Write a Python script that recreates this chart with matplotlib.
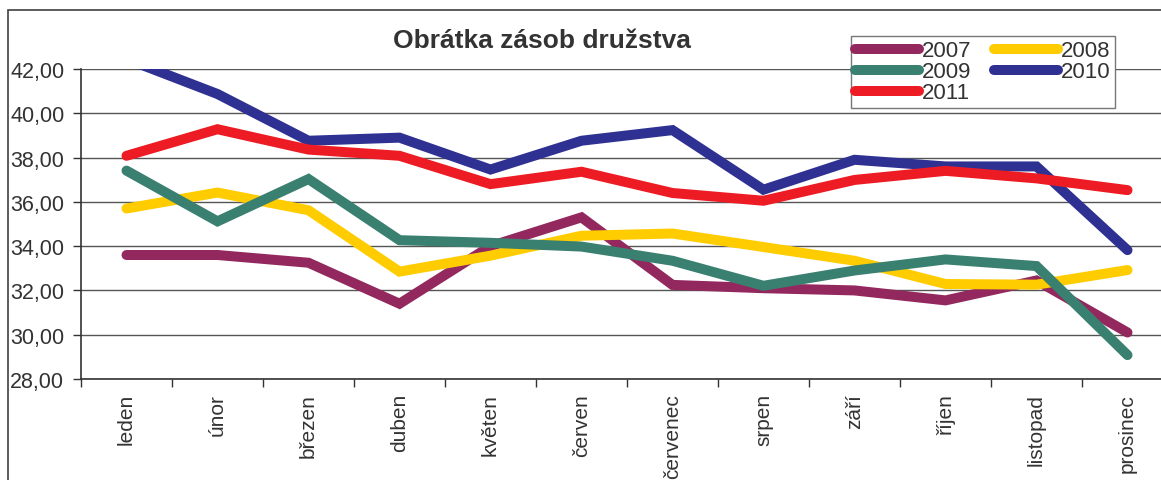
import matplotlib
matplotlib.use("Agg")
import matplotlib.pyplot as plt
from matplotlib.patches import Rectangle
from matplotlib.ticker import FuncFormatter, FixedLocator

months = ["leden", "únor", "březen", "duben", "květen", "červen",
          "červenec", "srpen", "září", "říjen", "listopad", "prosinec"]

s2007 = [33.6, 33.6, 33.25, 31.4, 34.0, 35.3, 32.25, 32.1, 32.0, 31.55, 32.45, 30.1]
s2008 = [35.7, 36.42, 35.62, 32.85, 33.57, 34.47, 34.57, 33.96, 33.34, 32.29, 32.26, 32.92]
s2009 = [37.41, 35.12, 37.03, 34.27, 34.15, 33.98, 33.34, 32.21, 32.9, 33.4, 33.1, 29.08]
s2010 = [42.45, 40.87, 38.76, 38.9, 37.46, 38.76, 39.24, 36.55, 37.9, 37.6, 37.6, 33.82]
s2011 = [38.08, 39.28, 38.36, 38.08, 36.8, 37.36, 36.4, 36.05, 36.99, 37.4, 37.06, 36.53]

series = [("2007", s2007, "#93285E"),
          ("2008", s2008, "#FFCC00"),
          ("2009", s2009, "#3A8070"),
          ("2010", s2010, "#2E3192"),
          ("2011", s2011, "#ED1C24")]

W, H = 1161, 481
plt.rcParams['font.family'] = ['Liberation Sans', 'DejaVu Sans']
fig = plt.figure(figsize=(W / 100, H / 100), dpi=100)

# outer chart border
fig.patches.append(Rectangle((8 / W, -0.5), 2.0, 1 - 11 / H + 0.5,
                             transform=fig.transFigure, fill=False,
                             edgecolor="#404040", linewidth=1.2))

ax = fig.add_axes([81 / W, (H - 380) / H, 1092 / W, 310 / H])
x = list(range(len(months)))
handles = {}
for name, vals, col in series:
    ln, = ax.plot(x, vals, color=col, linewidth=7.2, solid_capstyle='round',
                  solid_joinstyle='miter', label=name, clip_on=True)
    handles[name] = ln

ax.set_xlim(-0.5, 11.5)
ax.set_ylim(28, 42)
ax.set_yticks([28, 30, 32, 34, 36, 38, 40, 42])
ax.yaxis.set_major_formatter(FuncFormatter(lambda v, p: f"{v:.2f}".replace(".", ",")))
ax.grid(axis='y', color="#555555", linewidth=1.0)
ax.set_axisbelow(True)

ax.xaxis.set_major_locator(FixedLocator([i - 0.5 for i in range(13)]))
ax.xaxis.set_major_formatter(FuncFormatter(lambda v, p: ""))
ax.xaxis.set_minor_locator(FixedLocator(x))
ax.set_xticklabels(months, minor=True, rotation=90, fontsize=15, color="#333333")
ax.tick_params(axis='x', which='minor', length=0, pad=10)
ax.tick_params(axis='x', which='major', length=6, width=1, color="#333333", direction='out')
ax.tick_params(axis='y', length=6, width=1, color="#333333", direction='out',
               labelsize=15.5, labelcolor="#333333", pad=6)

for sp in ['top', 'right']:
    ax.spines[sp].set_visible(False)
for sp in ['left', 'bottom']:
    ax.spines[sp].set_color("#333333")
    ax.spines[sp].set_linewidth(1.2)

order = ["2007", "2009", "2011", "2008", "2010"]
leg = ax.legend([handles[k] for k in order], order, ncol=2, loc='upper right',
                bbox_to_anchor=((1115 - 81) / 1092, (380 - 37) / 310),
                borderaxespad=0, fontsize=16, labelspacing=0.0,
                handlelength=2.9, handletextpad=0.12, columnspacing=1.0,
                borderpad=0.2, fancybox=False, framealpha=1,
                edgecolor="#777777")
leg.get_frame().set_linewidth(1.0)
for t in leg.get_texts():
    t.set_color("#333333")
for l in leg.get_lines():
    l.set_linewidth(7.2)
    l.set_solid_capstyle('round')

fig.text(542 / W, 1 - 41 / H, "Obrátka zásob družstva", ha='center', va='center',
         fontsize=19, fontweight='bold', color="#333333")

fig.savefig("out.png", dpi=100)
